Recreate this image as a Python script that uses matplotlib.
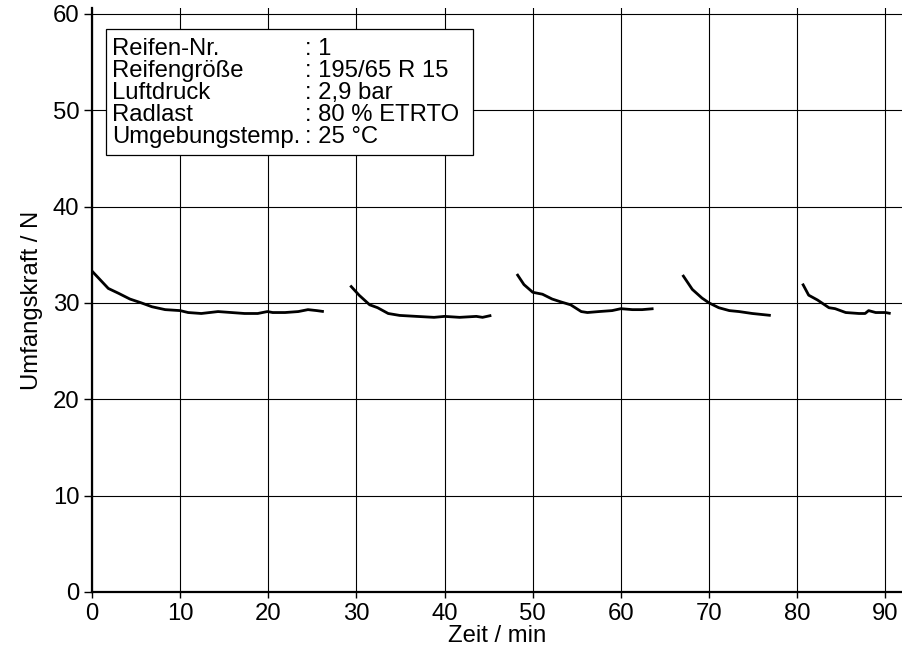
import matplotlib
matplotlib.use("Agg")
import matplotlib.pyplot as plt
from matplotlib.patches import Rectangle

plt.rcParams['font.family'] = ['Liberation Sans', 'DejaVu Sans']

# --- data ---
seg1_x = [0.0, 1.85, 3.0, 4.3, 5.6, 6.8, 8.3, 10.0, 10.9, 12.4, 14.3, 15.8, 17.3, 18.8, 19.9, 20.5, 21.9, 23.4, 24.5, 25.5, 26.3]
seg1_y = [33.3, 31.5, 31.0, 30.4, 30.0, 29.6, 29.3, 29.2, 29.0, 28.9, 29.1, 29.0, 28.9, 28.9, 29.1, 29.0, 29.0, 29.1, 29.3, 29.2, 29.1]
seg2_x = [29.3, 30.3, 31.5, 32.4, 33.6, 34.9, 36.8, 38.8, 40.0, 41.7, 43.6, 44.3, 45.3]
seg2_y = [31.8, 30.8, 29.8, 29.5, 28.9, 28.7, 28.6, 28.5, 28.6, 28.5, 28.6, 28.5, 28.7]
seg3_x = [48.2, 49.0, 50.0, 51.1, 52.2, 53.2, 54.3, 55.5, 56.2, 57.5, 59.0, 60.0, 61.3, 62.4, 63.7]
seg3_y = [33.0, 31.9, 31.1, 30.9, 30.4, 30.1, 29.8, 29.1, 29.0, 29.1, 29.2, 29.4, 29.3, 29.3, 29.4]
seg4_x = [67.0, 68.1, 69.2, 70.0, 71.1, 72.3, 73.4, 74.9, 77.0]
seg4_y = [32.9, 31.4, 30.5, 30.0, 29.5, 29.2, 29.1, 28.9, 28.7]
seg5_x = [80.6, 81.3, 82.3, 83.6, 84.3, 85.5, 87.0, 87.7, 88.1, 88.9, 90.0, 90.6]
seg5_y = [32.0, 30.8, 30.3, 29.5, 29.4, 29.0, 28.9, 28.9, 29.2, 29.0, 29.0, 28.9]
segments = [(seg1_x, seg1_y), (seg2_x, seg2_y), (seg3_x, seg3_y), (seg4_x, seg4_y), (seg5_x, seg5_y)]

x_ticks = [0, 10, 20, 30, 40, 50, 60, 70, 80, 90]
y_ticks = [0, 10, 20, 30, 40, 50, 60]
x_label = "Zeit / min"
y_label = "Umfangskraft / N"
info_labels = ["Reifen-Nr.", "Reifengröße", "Luftdruck", "Radlast", "Umgebungstemp."]
info_values = [": 1", ": 195/65 R 15", ": 2,9 bar", ": 80 % ETRTO", ": 25 °C"]

W, H = 903, 653
fig = plt.figure(figsize=(W / 100, H / 100), dpi=100)
ax = fig.add_axes([92 / W, (H - 592) / H, (W - 92) / W, (592 - 8) / H])

FS = 17.2
for sx, sy in segments:
    ax.plot(sx, sy, color='black', lw=2.0, solid_capstyle='butt',
            solid_joinstyle='round', zorder=3)

ax.set_xlim(0, 92)
ax.set_ylim(0, 60.6)
ax.set_xticks(x_ticks)
ax.set_yticks(y_ticks)
ax.tick_params(axis='both', labelsize=FS, direction='out', color='black', width=1.0)
ax.tick_params(axis='y', length=6, pad=3)
ax.tick_params(axis='x', length=4, pad=4)
ax.grid(True, color='black', lw=0.8, zorder=1)
ax.set_axisbelow(True)
for s in ['top', 'right']:
    ax.spines[s].set_visible(False)
for s in ['left', 'bottom']:
    ax.spines[s].set_linewidth(1.6)
ax.set_xlabel(x_label, fontsize=FS, labelpad=0)
ax.set_ylabel(y_label, fontsize=FS, labelpad=7)

# info box
def fx(px):
    return px / W

def fy(py):
    return (H - py) / H

box = Rectangle((fx(106), fy(155)), fx(473) - fx(106), fy(29) - fy(155),
                transform=fig.transFigure, facecolor='white', edgecolor='black',
                lw=0.9, zorder=5)
fig.patches.append(box)
baselines = [55, 77, 99, 121, 143]
for lab, val, b in zip(info_labels, info_values, baselines):
    fig.text(fx(112), fy(b), lab, fontsize=FS, va='baseline', ha='left', zorder=6)
    fig.text(fx(305), fy(b), val, fontsize=FS, va='baseline', ha='left', zorder=6)

fig.savefig("out.png", dpi=100)
